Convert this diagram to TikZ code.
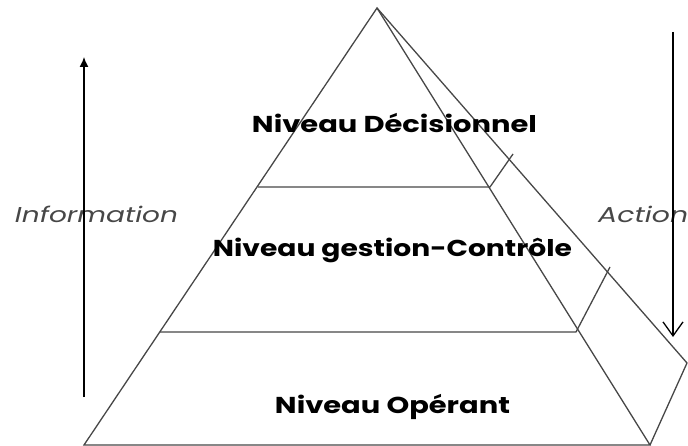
\documentclass[tikz,border=0pt]{standalone}
\usepackage{fontspec}
\setmainfont{Poppins}
\usetikzlibrary{arrows.meta}
\newcommand{\fitw}[2]{\resizebox{#1}{\height}{#2}}
\begin{document}
\begin{tikzpicture}[x=1pt,y=-1pt,
  edge/.style={draw=black!72, line width=1.3pt, line join=miter},
  flow/.style={draw=black, line width=1.3pt},
  lvl/.style={font=\fontsize{23}{26}\selectfont\bfseries, text=black, inner sep=0pt, anchor=base},
  side/.style={font=\fontsize{21.5}{24}\selectfont\itshape, text=black!72, inner sep=0pt, anchor=base}]
\useasboundingbox (0,0) rectangle (688,446);
% pyramid corners
\coordinate (A) at (377,8);
\coordinate (BL) at (84,445);
\coordinate (BR) at (650,445);
\coordinate (O) at (687,363);
% upper level line
\coordinate (u1) at (258,187);
\coordinate (u2) at (490,187);
\coordinate (u3) at (513,154);
% lower level line
\coordinate (l1) at (160,332);
\coordinate (l2) at (576,332);
\coordinate (l3) at (610,267);
\draw[edge] (BL) -- (A) -- (BR) -- cycle;
\draw[edge] (A) -- (O) -- (BR);
\draw[edge] (u1) -- (u2) -- (u3);
\draw[edge] (l1) -- (l2) -- (l3);
% texts
\node[lvl] (n1) at (394.5,133) {\fitw{285pt}{Niveau Décisionnel}};
\node[lvl] (n2) at (392.5,257) {\fitw{359pt}{Niveau gestion-Contrôle}};
\node[lvl] (n3) at (392.5,413) {\fitw{235pt}{Niveau Opérant}};
\node[side] (inf) at (96.5,223) {\fitw{163pt}{Information}};
\node[side, anchor=base west] (act) at (598,223) {\fitw{90pt}{Action}};
% arrows
\coordinate (i0) at (84,397);
\coordinate (i1) at (84,57);
\coordinate (a0) at (673,32);
\coordinate (a1) at (673,337);
\draw[flow, -{Latex[length=10pt,width=9pt]}] (i0) -- (i1);
\draw[flow, -{Straight Barb[length=14pt,width=20pt,line width=1.3pt]}] (a0) -- (a1);
\end{tikzpicture}
\end{document}
